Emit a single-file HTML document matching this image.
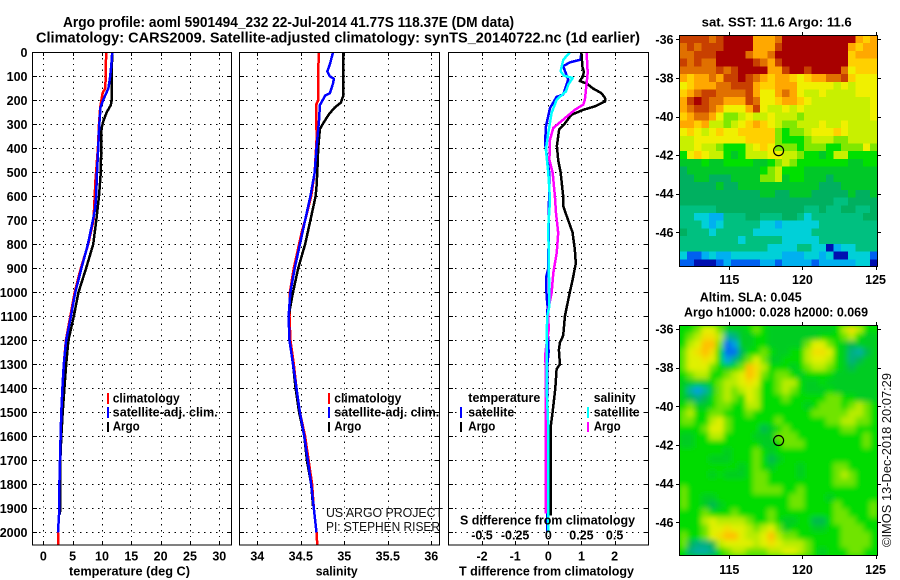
<!DOCTYPE html>
<html>
<head>
<meta charset="utf-8">
<title>Argo profile</title>
<style>
html,body{margin:0;padding:0;background:#fff;}
svg{display:block;}
text{font-family:"Liberation Sans",sans-serif;font-weight:bold;font-size:12.5px;fill:#000;}
.reg{font-weight:normal;font-size:13px;fill:#111;}
.ttl{font-size:14.5px;}
</style>
</head>
<body>
<svg id="chart" xmlns="http://www.w3.org/2000/svg" width="900" height="580" viewBox="0 0 900 580">
  <defs>
    <clipPath id="clipMapA"><rect x="679.3" y="35.3" width="198" height="231.4"/></clipPath>
    <clipPath id="clipMapB"><rect x="679.3" y="325.3" width="198" height="230"/></clipPath>
    <filter id="smooth" x="-5%" y="-5%" width="110%" height="110%"><feGaussianBlur stdDeviation="2.6"/></filter>
  </defs>
  <rect x="0" y="0" width="900" height="580" fill="#fff"/>

  <text class="ttl" x="63" y="27" textLength="451" lengthAdjust="spacingAndGlyphs">Argo profile: aoml 5901494_232 22-Jul-2014 41.77S 118.37E (DM data)</text>
  <text class="ttl" x="36" y="42.5" textLength="604" lengthAdjust="spacingAndGlyphs">Climatology: CARS2009. Satellite-adjusted climatology: synTS_20140722.nc (1d earlier)</text>

  <g id="gridLayer"></g>
  <g id="seriesLayer"></g>
  <g id="tickLayer"></g>
  <g id="mapA" clip-path="url(#clipMapA)"></g>
  <g clip-path="url(#clipMapB)">
    <rect x="679.3" y="325.3" width="198" height="230" fill="#00dc00"/>
    <g id="mapB" filter="url(#smooth)"></g>
  </g>

  <rect x="32.5" y="52.5" width="199" height="492.5" fill="none" stroke="#000" shape-rendering="crispEdges"/>
  <rect x="239.5" y="52.5" width="200" height="492.5" fill="none" stroke="#000" shape-rendering="crispEdges"/>
  <rect x="448.5" y="52.5" width="200" height="492.5" fill="none" stroke="#000" shape-rendering="crispEdges"/>
  <rect x="679.5" y="35.5" width="198" height="231" fill="none" stroke="#000" shape-rendering="crispEdges"/>
  <rect x="679.5" y="325.5" width="198" height="230" fill="none" stroke="#000" shape-rendering="crispEdges"/>

  <text x="129.5" y="575.5" text-anchor="middle" textLength="121" lengthAdjust="spacingAndGlyphs">temperature (deg C)</text>
  <text x="336.7" y="575.5" text-anchor="middle" textLength="42" lengthAdjust="spacingAndGlyphs">salinity</text>
  <text x="459" y="575.5" textLength="175" lengthAdjust="spacingAndGlyphs">T difference from climatology</text>
  <text x="460" y="524.5" textLength="175" lengthAdjust="spacingAndGlyphs">S difference from climatology</text>

  <g>
    <rect x="107" y="393" width="2" height="11" fill="#f00"/>
    <rect x="107" y="407" width="2" height="11" fill="#00f"/>
    <rect x="107" y="422" width="2" height="10" fill="#000"/>
    <text x="112.7" y="402.5" textLength="67" lengthAdjust="spacingAndGlyphs">climatology</text>
    <text x="112.7" y="416.5" textLength="105" lengthAdjust="spacingAndGlyphs">satellite-adj. clim.</text>
    <text x="112.7" y="430.5" textLength="27" lengthAdjust="spacingAndGlyphs">Argo</text>
  </g>
  <g>
    <rect x="328" y="393" width="2" height="11" fill="#f00"/>
    <rect x="328" y="407" width="2" height="11" fill="#00f"/>
    <rect x="328" y="422" width="2" height="10" fill="#000"/>
    <text x="334.3" y="402.5" textLength="67" lengthAdjust="spacingAndGlyphs">climatology</text>
    <text x="334.3" y="416.5" textLength="105" lengthAdjust="spacingAndGlyphs">satellite-adj. clim.</text>
    <text x="334.3" y="430.5" textLength="27" lengthAdjust="spacingAndGlyphs">Argo</text>
  </g>
  <g>
    <text x="468.3" y="402" textLength="72" lengthAdjust="spacingAndGlyphs">temperature</text>
    <rect x="460" y="407" width="2" height="11" fill="#00f"/>
    <text x="468.3" y="416.5" textLength="46" lengthAdjust="spacingAndGlyphs">satellite</text>
    <rect x="460" y="422" width="2" height="10" fill="#000"/>
    <text x="468.3" y="430.5" textLength="27" lengthAdjust="spacingAndGlyphs">Argo</text>
    <text x="593.7" y="402" textLength="42" lengthAdjust="spacingAndGlyphs">salinity</text>
    <rect x="587" y="407" width="2" height="11" fill="#0ff"/>
    <text x="593.7" y="416.5" textLength="46" lengthAdjust="spacingAndGlyphs">satellite</text>
    <rect x="587" y="422" width="2" height="10" fill="#f0f"/>
    <text x="593.7" y="430.5" textLength="27" lengthAdjust="spacingAndGlyphs">Argo</text>
  </g>

  <text class="reg" x="326" y="517" textLength="117" lengthAdjust="spacingAndGlyphs">US ARGO PROJECT</text>
  <text class="reg" x="326" y="531" textLength="114" lengthAdjust="spacingAndGlyphs">PI: STEPHEN RISER</text>

  <text x="776.7" y="26.5" text-anchor="middle" textLength="150" lengthAdjust="spacingAndGlyphs">sat. SST: 11.6 Argo: 11.6</text>
  <text x="750.7" y="301.5" text-anchor="middle" textLength="102" lengthAdjust="spacingAndGlyphs">Altim. SLA: 0.045</text>
  <text x="776" y="316.5" text-anchor="middle" textLength="184" lengthAdjust="spacingAndGlyphs">Argo h1000: 0.028 h2000: 0.069</text>
  <text class="reg" transform="translate(891,547) rotate(-90)" x="0" y="0" textLength="174" lengthAdjust="spacingAndGlyphs">©IMOS 13-Dec-2018 20:07:29</text>
</svg>

<script>
// ---------- tick labels ----------
const depthTicks = [0,100,200,300,400,500,600,700,800,900,1000,1100,1200,1300,1400,1500,1600,1700,1800,1900,2000];
const tempTicks = [0,5,10,15,20,25,30];
const salTicks = [34,34.5,35,35.5,36];
const tDiffTicks = [-2,-1,0,1,2];
const sDiffTicks = [-0.5,-0.25,0,0.25,0.5];
const lonTicks = [115,120,125];
const latTicks = [-36,-38,-40,-42,-44,-46];

// ---------- temperature series ----------
const tempClimDepth = [0,100,150,170,200,230,300,400,500,530,700,800,900,1000,1100,1200,1300,1400,1500,1600,1700,1800,1900,2000,2053];
const tempClim = [10.7,10.65,10.55,10.1,9.9,9.7,9.5,9.3,9.0,8.9,8.55,7.65,6.4,5.35,4.6,3.85,3.5,3.25,3.07,2.95,2.85,2.75,2.75,2.5,2.5];
const tempArgoDepth = [0,50,200,220,250,290,320,500,600,700,800,900,1000,1100,1200,1300,1400,1500,1600,1700,1925];
const tempArgo = [11.8,11.7,11.65,11.5,10.8,10.2,9.9,9.8,9.5,9.03,8.5,7.3,6.0,5.2,4.27,3.9,3.6,3.3,3.07,2.9,2.85];
const tempSatDepth = [0,50,100,150,200,230,300,400,500,600,650,700,800,900,1000,1100,1200,1300,1400,1500,1600,1700,1800,1900,2000];
const tempSat = [11.75,11.6,11.4,11.1,10.2,9.75,9.55,9.35,9.15,9.0,8.85,8.45,7.6,6.5,5.45,4.7,3.9,3.5,3.25,3.07,2.95,2.85,2.75,2.75,2.5];

// ---------- salinity series ----------
const salClimDepth = [0,200,220,300,340,500,600,700,750,900,1000,1100,1200,1300,1400,1500,1600,1700,1800,1900,2000,2053];
const salClim = [34.705,34.70,34.675,34.675,34.685,34.66,34.62,34.55,34.51,34.42,34.375,34.37,34.38,34.42,34.45,34.49,34.55,34.59,34.63,34.65,34.68,34.69];
const salArgoDepth = [0,180,210,230,260,300,320,400,500,560,600,650,700,800,900,1000,1040,1100,1200,1300,1400,1500,1600,1700,1800,1890];
const salArgo = [34.99,34.99,34.96,34.89,34.82,34.75,34.72,34.70,34.69,34.68,34.67,34.64,34.61,34.55,34.47,34.41,34.39,34.36,34.37,34.41,34.44,34.48,34.54,34.57,34.62,34.64];
const salSatDepth = [0,50,80,100,110,130,170,180,200,220,280,340,400,500,600,700,800,900,1000,1050,1100,1200,1300,1400,1500,1600,1700,1800,1900,2000];
const salSat = [34.87,34.835,34.805,34.835,34.88,34.87,34.835,34.78,34.75,34.72,34.71,34.695,34.68,34.66,34.61,34.55,34.49,34.43,34.38,34.37,34.36,34.37,34.41,34.45,34.49,34.54,34.58,34.62,34.65,34.68];

// ---------- difference series ----------
const dTSatDepth = [0,31,42,58,114,142,176,186,232,308,378,406,503,900,940,1016,1058,1100,1250,1300,2000];
const dTSat = [1.0,0.97,0.65,0.45,0.6,0.53,0.45,0.25,0.05,-0.07,-0.1,-0.07,0.03,0,-0.07,-0.05,-0.02,-0.03,0.01,-0.03,-0.03];
const dTArgoDepth = [0,60,80,100,120,130,150,170,190,205,225,240,260,300,320,390,450,500,600,640,680,750,820,880,950,1000,1032,1100,1180,1210,1240,1300,1320,1400,1500,1550,1930];
const dTArgo = [1.0,1.03,1.07,1.05,0.95,1.16,1.34,1.6,1.71,1.71,1.41,1.05,0.7,0.48,0.33,0.26,0.3,0.37,0.45,0.45,0.55,0.73,0.8,0.83,0.73,0.65,0.6,0.5,0.45,0.35,0.32,0.35,0.25,0.21,0.13,0.08,0.07];
const dSSatDepth = [0,31,79,97,107,135,163,197,253,336,406,503,614,725,1058,1101,1200,1300,1400,1560,2000];
const dSSat = [0.163,0.113,0.093,0.118,0.183,0.151,0.133,0.063,0.025,0,-0.018,0,0.013,0,0.008,-0.008,-0.013,-0.013,-0.013,0,0];
const dSArgoDepth = [0,86,197,218,239,274,315,364,447,503,600,669,753,836,919,1003,1072,1101,1157,1213,1268,1310,1588,1726,1921];
const dSArgo = [0.289,0.297,0.276,0.264,0.201,0.126,0.038,0.013,0.008,0.033,0.05,0.058,0.075,0.063,0.038,0.025,0,0,0.003,-0.013,-0.025,-0.018,-0.018,-0.018,-0.018];

// ---------- map levels (hex digit per cell, north to south) ----------
const sstLevelColors = ['#0010b0','#0060f0','#00b0f0','#00d0d8','#00c080','#00b060','#00c828','#00e000','#80e800','#c8f000','#f0f000','#ffd000','#ffa800','#e07000','#c84000','#a80000'];
const slaLevelColors = ['#0010b0','#0070f0','#00a0e0','#00b0a0','#00b080','#00b850','#00cc20','#00dc00','#70e400','#b8ec00','#e0f000','#f0e000','#ffc000','#e07000','#c84000','#a80000'];
const sstRows = [
"EEEEDEFFFFCCCDFFFFFFFFFFCBC",
"DEDEEEFFFFCCCEFFFFFFFFFCBCC",
"DDEEEFFFFDCCDFFFFFFFFFFBCCC",
"EDEDDFFFFFEDCEFFFFFFFFFBBBB",
"DDDDDEDEFFFFCCEFFEFFFFDABBB",
"CBCCDCEEFEDCBCCBABCCDDEBAAA",
"ABCCCDDEEECBBCCCAAAAA9A9AAA",
"BCDEEDDDDECAACDCA99A9999AAA",
"CEFEDDCCCEDAABCCBA99999999A",
"CDEEDCAAACEA99A9A999999999A",
"BCDDCA889A99A9998999999999A",
"CCBC9989ABCBA988999A99A9999",
"ABA9ABAABBBBB87889AAABA9999",
"99AAAAAAABBBB87778999889999",
"99A9987779ABA888788877888A8",
"7ABA99767999AA9987767997777",
"666766777766789877777776677",
"566666666667897776666666666",
"556655566668896776665666666",
"555556556666666666655566666",
"555555555556655666555556556",
"555555555555555555555445555",
"444445555555555554454455445",
"443322444554445543444444455",
"444323444443323333344444444",
"544434444433333333444444444",
"444444443444443333344444444",
"444444444444333344330233444",
"311232233333332223323003331",
"110001211112212222122222330"
];
const slaRows = [
"778AA866678766666666679B977",
"789BB9346677666666677789766",
"79ACC8126677666668AA8765666",
"8ABCB7115778766779BBA764356",
"8AABA72468A8667779AA9764566",
"8AAA87678CB9777678998765666",
"78997789ACB8788767777666666",
"66667899ABA7789976676666666",
"632368989A97789876667666666",
"654578987A97778777778877666",
"786678877997777776788878987",
"897788777877777777888889987",
"88779A877777787777778899887",
"7778AA877775678777777788777",
"667799777766688877777777787",
"667777777776678887777777787",
"777777677787677777777777777",
"777766677787567777777777777",
"777777776787677767777887777",
"777767666788777767777898777",
"777777777788777777777888777",
"877777777788887787777777777",
"877667777777777887776777777",
"877656777777777887777877778",
"777877787777877777777887778",
"7779A9999877876677557888777",
"7778AABAA989A86777667788877",
"8778ABCCA99AC98877777788887",
"854459AAAA9ABA9998777788887",
"74334789988899AA98767778877"
];
const argoLon = [118.37];
const argoLat = [-41.77];

// ---------- axis functions ----------
function yDepth(d){ return 52.3 + 0.24*d; }
function xTemp(v){ return 43.3 + 5.867*v; }
function xSal(v){ return 257.3 + 87*(v-34); }
function xTd(v){ return 548.3 + 33.15*v; }
function xSd(v){ return xTd(v*4); }
function xLon(v){ return 729.3 + 14.63*(v-115); }
function yLatA(v){ return 39.3 + 19.3*(-36-v); }
function yLatB(v){ return 329 + 19.33*(-36-v); }

const NS = 'http://www.w3.org/2000/svg';
function mk(tag, parent, attrs){
  const e = document.createElementNS(NS, tag);
  for (const k in attrs) e.setAttribute(k, attrs[k]);
  parent.appendChild(e);
  return e;
}

const gridLayer = document.getElementById('gridLayer');
const seriesLayer = document.getElementById('seriesLayer');
const tickLayer = document.getElementById('tickLayer');

// ---------- grids and inward ticks ----------
const DOT = '1.4 4.5';
const TICK = 4;
function drawGrid(x0, x1, ticks, xf){
  depthTicks.forEach(function(d){
    const y = Math.round(yDepth(d)) + 0.5;
    const l = mk('line', gridLayer, {x1:x0, x2:x1, y1:y, y2:y, stroke:'#000', 'stroke-dasharray':DOT, 'shape-rendering':'crispEdges'});
    
    
    const a = mk('line', gridLayer, {x1:x0, x2:x0+TICK, y1:y, y2:y, stroke:'#000', 'shape-rendering':'crispEdges'});
    
    
    const b = mk('line', gridLayer, {x1:x1-TICK, x2:x1, y1:y, y2:y, stroke:'#000', 'shape-rendering':'crispEdges'});
    
    
  });
  ticks.forEach(function(t){
    const x = Math.round(xf(t)) + 0.5;
    const l = mk('line', gridLayer, {x1:x, x2:x, y1:52, y2:545, stroke:'#000', 'stroke-dasharray':DOT, 'shape-rendering':'crispEdges'});
    
    
    const a = mk('line', gridLayer, {x1:x, x2:x, y1:52, y2:52+TICK, stroke:'#000', 'shape-rendering':'crispEdges'});
    
    
    const b = mk('line', gridLayer, {x1:x, x2:x, y1:545-TICK, y2:545, stroke:'#000', 'shape-rendering':'crispEdges'});
    
    
  });
}
drawGrid(33, 231, tempTicks, xTemp);
drawGrid(240, 439, salTicks, xSal);
drawGrid(449, 648, tDiffTicks, xTd);

// ---------- series ----------
function drawLine(depths, vals, xf, color, width, name){
  const pts = depths.map(function(d,i){ return xf(vals[i]).toFixed(1)+','+yDepth(d).toFixed(1); }).join(' ');
  const p = mk('polyline', seriesLayer, {points:pts, fill:'none', stroke:color, 'stroke-width':width, 'stroke-linejoin':'round', 'shape-rendering':'crispEdges'});
  
  
}
const LW = 2.5;
drawLine(tempClimDepth, tempClim, xTemp, '#f00', LW, 'temperature-climatology-line');
drawLine(tempArgoDepth, tempArgo, xTemp, '#000', LW, 'temperature-argo-line');
drawLine(tempSatDepth, tempSat, xTemp, '#00f', LW, 'temperature-satellite-line');
drawLine(salClimDepth, salClim, xSal, '#f00', LW, 'salinity-climatology-line');
drawLine(salArgoDepth, salArgo, xSal, '#000', LW, 'salinity-argo-line');
drawLine(salSatDepth, salSat, xSal, '#00f', LW, 'salinity-satellite-line');
drawLine(dTSatDepth, dTSat, xTd, '#00f', LW, 't-difference-satellite-line');
drawLine(dTArgoDepth, dTArgo, xTd, '#000', LW, 't-difference-argo-line');
drawLine(dSArgoDepth, dSArgo, xSd, '#f0f', LW, 's-difference-argo-line');
drawLine(dSSatDepth, dSSat, xSd, '#0ff', LW, 's-difference-satellite-line');

// ---------- tick labels ----------
function label(str, x, y, anchor, name){
  const t = mk('text', tickLayer, {x:x, y:y, 'text-anchor':anchor});
  t.textContent = str;
  
  
  return t;
}
depthTicks.forEach(function(d){ label(String(d), 27.5, yDepth(d)+4.5, 'end', 'depth-tick-label'); });
tempTicks.forEach(function(t){ label(String(t), xTemp(t), 560.5, 'middle', 'temperature-tick-label'); });
salTicks.forEach(function(t){ label(String(t), xSal(t), 560.5, 'middle', 'salinity-tick-label'); });
tDiffTicks.forEach(function(t){ label(String(t), xTd(t), 560.5, 'middle', 't-difference-tick-label'); });
sDiffTicks.forEach(function(t){ label(String(t), xSd(t), 539.5, 'middle', 's-difference-tick-label'); });

// ---------- maps ----------
const lonWest = 111.6, lonEast = 125.13;
function drawMap(layerId, rows, latNorth, latSouth, yf, colors, cname){
  const layer = document.getElementById(layerId);
  rows.forEach(function(row, r){
    const n = row.length;
    for (let c = 0; c < n; c++) {
      const lonA = lonWest + (lonEast-lonWest)*c/n;
      const lonB = lonWest + (lonEast-lonWest)*(c+1)/n;
      const latA = latNorth + (latSouth-latNorth)*r/rows.length;
      const latB = latNorth + (latSouth-latNorth)*(r+1)/rows.length;
      const level = parseInt(row[c], 16);
      const cell = mk('rect', layer, {x:xLon(lonA).toFixed(2), y:yf(latA).toFixed(2), width:(xLon(lonB)-xLon(lonA)+0.6).toFixed(2), height:(yf(latB)-yf(latA)+0.6).toFixed(2), fill:colors[level], 'shape-rendering':'crispEdges'});
      
      
    }
  });
}
drawMap('mapA', sstRows, -35.8, -47.8, yLatA, sstLevelColors, 'sst-cell');
drawMap('mapB', slaRows, -35.8, -47.7, yLatB, slaLevelColors, 'sla-cell');

function drawMapAxes(yf, top, bottom, labelY, prefix){
  lonTicks.forEach(function(t){
    const x = Math.round(xLon(t)) + 0.5;
    const a = mk('line', tickLayer, {x1:x, x2:x, y1:top-3, y2:top, stroke:'#000', 'shape-rendering':'crispEdges'});
    
    
    const b = mk('line', tickLayer, {x1:x, x2:x, y1:bottom, y2:bottom+3, stroke:'#000', 'shape-rendering':'crispEdges'});
    
    
    label(String(t), xLon(t), labelY, 'middle', prefix + '-lon-label');
  });
  latTicks.forEach(function(t){
    const y = Math.round(yf(t)) + 0.5;
    const a = mk('line', tickLayer, {x1:676, x2:679, y1:y, y2:y, stroke:'#000', 'shape-rendering':'crispEdges'});
    
    
    const b = mk('line', tickLayer, {x1:878, x2:881, y1:y, y2:y, stroke:'#000', 'shape-rendering':'crispEdges'});
    
    
    label(String(t), 673.5, yf(t)+4.5, 'end', prefix + '-lat-label');
  });
}
drawMapAxes(yLatA, 35, 267, 284, 'sst-map');
drawMapAxes(yLatB, 325, 556, 574, 'sla-map');

const svgRoot = document.getElementById('chart');
const markerA = mk('circle', svgRoot, {cx:xLon(argoLon[0]), cy:yLatA(argoLat[0]), r:5, fill:'none', stroke:'#000', 'stroke-width':1.2});


const markerB = mk('circle', svgRoot, {cx:xLon(argoLon[0]), cy:yLatB(argoLat[0]), r:5, fill:'none', stroke:'#000', 'stroke-width':1.2});


</script>
</body>
</html>
